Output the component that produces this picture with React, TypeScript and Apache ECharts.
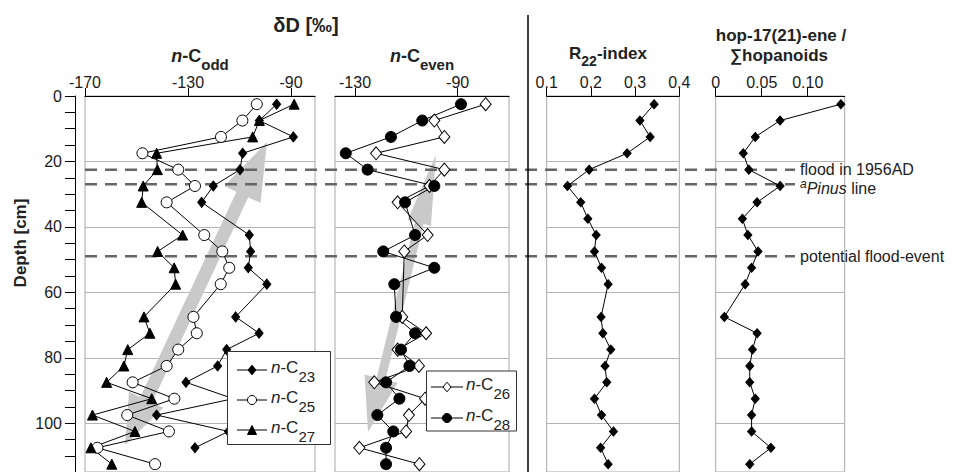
import React, { useEffect, useRef } from 'react';
import * as echarts from 'echarts';

const FONT = '"Liberation Sans", Arial, Helvetica, sans-serif';

// Sample depths (cm)
const depths = [2.5, 7.5, 12.5, 17.5, 22.5, 27.5, 32.5, 37.5, 42.5, 47.5, 52.5, 57.5, 62.5, 67.5, 72.5, 77.5, 82.5, 87.5, 92.5, 97.5, 102.5, 107.5, 112.5];

// δD n-C odd (‰)
const c23 = [-95.6, -102.3, -89.1, -108.8, -109.8, -120.2, -124.7, null, -106.2, -105.7, -106.6, -99.4, null, -111.5, -102.4, -115.0, -118.5, -130.8, -112.4, -142.2, -114.3, -127.3, null];
const c25 = [-103.3, -108.9, -117.2, -147.7, -133.8, -127.3, -138.3, null, -123.7, -116.7, -114.0, -117.3, null, -127.9, -126.6, -133.8, -138.3, -151.5, -135.3, -153.6, -137.4, -165.2, -142.8];
const c27 = [-88.8, -102.3, -104.9, -142.2, -141.9, -147.4, -148.0, null, -132.1, -141.8, -135.4, -134.8, null, -147.1, -144.8, -153.4, -154.9, -161.6, -144.1, -167.1, -150.6, -167.7, -159.6];

// δD n-C even (‰)
const c26 = [-79.1, -99.1, -95.2, -121.8, -95.2, -101.0, -113.4, null, -101.7, -110.8, null, null, null, -111.6, -102.3, -113.4, -105.1, -122.5, -102.7, -109.0, -110.1, -128.3, -104.9];
const c28 = [-88.7, -103.8, -116.0, -133.6, -125.1, -99.1, -110.5, null, -106.6, -119.0, -99.1, -114.7, null, -114.0, -106.6, -112.1, -108.8, -117.9, -112.7, -121.3, -115.1, -117.9, -117.9];

// R22-index
const r22 = [0.343, 0.311, 0.334, 0.282, 0.196, 0.147, 0.177, 0.193, 0.212, 0.208, 0.224, 0.239, null, 0.223, 0.227, 0.245, 0.232, 0.236, 0.208, 0.224, 0.251, 0.222, 0.239];

// hop-17(21)-ene / sum hopanoids
const hop = [0.136, 0.070, 0.043, 0.030, 0.036, 0.070, 0.045, 0.029, 0.035, 0.046, 0.039, 0.032, null, 0.0094, 0.045, 0.040, 0.037, 0.037, 0.043, 0.039, 0.039, 0.060, 0.037];

// Axis ticks / labels
const depthLabels = [0, 20, 40, 60, 80, 100];
const oddTicks = [-170, -130, -90];
const evenTicks = [-130, -90];
const r22Ticks = [0.1, 0.2, 0.3, 0.4];
const hopTicks = [0, 0.05, 0.1];
const hopTickLabels = ['0', '0.05', '0.10'];

// Event horizons
const eventDepths = [22.5, 27, 49];

const DEPTH_MAX = 114.9;

function pairs(values: (number | null)[]) {
  const out: number[][] = [];
  depths.forEach((d, i) => {
    const v = values[i];
    if (v !== null && v !== undefined) out.push([v, d]);
  });
  return out;
}

function arrowPoly(tail: number[], tip: number[], shaftW: number, headW: number, headLen: number, tailW: number, tailLen: number) {
  const dx = tip[0] - tail[0];
  const dy = tip[1] - tail[1];
  const L = Math.hypot(dx, dy);
  const ux = dx / L, uy = dy / L;
  const nx = -uy, ny = ux;
  const hb = [tip[0] - ux * headLen, tip[1] - uy * headLen];
  const tb = [tail[0] + ux * tailLen, tail[1] + uy * tailLen];
  const P = (b: number[], w: number) => [b[0] + nx * w / 2, b[1] + ny * w / 2];
  return [
    tip,
    P(hb, headW), P(hb, shaftW), P(tb, shaftW), P(tb, tailW),
    tail,
    P(tb, -tailW), P(tb, -shaftW), P(hb, -shaftW), P(hb, -headW),
  ];
}

const gridBase = { top: 96, height: 378, show: true, borderColor: '#a8a8a8', borderWidth: 1, backgroundColor: 'transparent' };

function xAxisDef(gridIndex: number, min: number, max: number, ticks: number[], fmt?: (v: number) => string) {
  return {
    type: 'value', gridIndex, position: 'top', min, max,
    axisLine: { show: true, onZero: false, lineStyle: { color: '#000', width: 1 } },
    axisTick: { show: true, inside: false, length: 8, customValues: ticks, lineStyle: { color: '#000', width: 1 } },
    axisLabel: { show: true, customValues: ticks, margin: 6, fontSize: 16, color: '#1a1a1a', fontFamily: FONT, formatter: fmt || ((v: number) => String(v)) },
    splitLine: { show: false },
  };
}

function yAxisDef(gridIndex: number, main: boolean) {
  return {
    type: 'value', gridIndex, inverse: true, min: 0, max: DEPTH_MAX, interval: 20,
    offset: main ? 10 : 0,
    axisLine: { show: main, onZero: false, lineStyle: { color: '#000', width: 1 } },
    axisTick: { show: main, inside: false, length: 10, lineStyle: { color: '#000', width: 1 } },
    minorTick: { show: main, splitNumber: 4, length: 10, lineStyle: { color: '#000', width: 1 } },
    minorSplitLine: { show: false },
    axisLabel: { show: main, customValues: depthLabels, margin: 13, fontSize: 16, color: '#1a1a1a', fontFamily: FONT },
    splitLine: { show: true, lineStyle: { color: '#b4b4b4', width: 1 } },
  };
}

function lineSeries(name: string, values: (number | null)[], gi: number, symbol: string, size: any, fill: string) {
  return {
    name, type: 'line', xAxisIndex: gi, yAxisIndex: gi,
    data: pairs(values),
    symbol, symbolSize: size,
    showAllSymbol: true,
    lineStyle: { color: '#000', width: 1 },
    itemStyle: { color: fill, borderColor: '#000', borderWidth: 1 },
    z: 3,
  };
}

const titleRich = (fs: number, ss: number, pad: number) => ({
  i: { fontStyle: 'italic', fontWeight: 'bold', fontSize: fs, lineHeight: fs + 4, verticalAlign: 'top', fontFamily: FONT, fill: '#222' },
  b: { fontWeight: 'bold', fontSize: fs, lineHeight: fs + 4, verticalAlign: 'top', fontFamily: FONT, fill: '#222' },
  s: { fontWeight: 'bold', fontSize: ss, lineHeight: ss, verticalAlign: 'top', padding: [pad, 0, 0, 0], fontFamily: FONT, fill: '#222' },
});

const legRich = {
  i: { fontStyle: 'italic', fontSize: 17, lineHeight: 20, verticalAlign: 'top', fontFamily: FONT, fill: '#222' },
  r: { fontSize: 17, lineHeight: 20, verticalAlign: 'top', fontFamily: FONT, fill: '#222' },
  s: { fontSize: 15, lineHeight: 15, verticalAlign: 'top', padding: [10, 0, 0, 0], fontFamily: FONT, fill: '#222' },
};

function marker(kind: string, cx: number, cy: number, s: number, z: number) {
  if (kind === 'diamond' || kind === 'odiamond') {
    return { type: 'polygon', z, shape: { points: [[cx, cy - s * 0.6], [cx + s / 2, cy], [cx, cy + s * 0.6], [cx - s / 2, cy]] }, style: { fill: kind === 'diamond' ? '#000' : '#fff', stroke: '#000', lineWidth: 1 } };
  }
  if (kind === 'triangle') {
    return { type: 'polygon', z, shape: { points: [[cx, cy - s / 2], [cx + s / 2, cy + s / 2], [cx - s / 2, cy + s / 2]] }, style: { fill: '#000', stroke: '#000', lineWidth: 1 } };
  }
  return { type: 'circle', z, shape: { cx, cy, r: s / 2 }, style: { fill: kind === 'circle' ? '#000' : '#fff', stroke: '#000', lineWidth: 1 } };
}

export default function App() {
  const ref = useRef<HTMLDivElement>(null);
  useEffect(() => {
    if (!ref.current) return;
    const chart = echarts.init(ref.current, undefined, { renderer: 'svg' });
    const option: any = {
      animation: false,
      backgroundColor: '#fff',
      textStyle: { fontFamily: FONT },
      grid: [
        { ...gridBase, left: 85, width: 230 },
        { ...gridBase, left: 335, width: 174 },
        { ...gridBase, left: 546.7, width: 132.6 },
        { ...gridBase, left: 715.7, width: 129 },
      ],
      xAxis: [
        xAxisDef(0, -170, -80.7, oddTicks),
        xAxisDef(1, -137.8, -70, evenTicks),
        xAxisDef(2, 0.1, 0.4, r22Ticks),
        xAxisDef(3, 0, 0.1402, hopTicks, (v: number) => hopTickLabels[hopTicks.indexOf(v)] ?? String(v)),
      ],
      yAxis: [yAxisDef(0, true), yAxisDef(1, false), yAxisDef(2, false), yAxisDef(3, false)],
      series: [
        lineSeries('n-C23', c23, 0, 'diamond', [8, 10], '#000'),
        lineSeries('n-C25', c25, 0, 'circle', 11, '#fff'),
        lineSeries('n-C27', c27, 0, 'triangle', 10, '#000'),
        lineSeries('n-C26', c26, 1, 'diamond', [11, 13], '#fff'),
        lineSeries('n-C28', c28, 1, 'circle', 11, '#000'),
        lineSeries('R22', r22, 2, 'diamond', [8, 9], '#000'),
        lineSeries('hop', hop, 3, 'diamond', [8, 9], '#000'),
      ],
    };
    chart.setOption(option);

    const yOf = (d: number) => chart.convertToPixel({ yAxisIndex: 0 }, d) as number;
    const g: any[] = [];

    // gray trend arrows
    g.push({ type: 'polygon', z: 1, shape: { points: arrowPoly([125, 445], [267, 142], 13, 40, 58, 38, 50) }, style: { fill: '#c9c9c9' } });
    g.push({ type: 'polygon', z: 1, shape: { points: arrowPoly([368, 432], [436, 155], 9, 24, 70, 34, 55) }, style: { fill: '#c9c9c9' } });

    // event lines
    eventDepths.forEach((d) => {
      const y = yOf(d);
      g.push({ type: 'line', z: 2, shape: { x1: 85, y1: y, x2: 795, y2: y }, style: { stroke: '#666', lineWidth: 2.5, lineDash: [12, 8] } });
    });
    const yf = yOf(eventDepths[0]);
    const yp = yOf(eventDepths[1]);
    const ye = yOf(eventDepths[2]);
    g.push({ type: 'text', z: 5, style: { text: 'flood in 1956AD', x: 800, y: yf, verticalAlign: 'middle', fontSize: 16, fontFamily: FONT, fill: '#222' } });
    g.push({ type: 'text', z: 5, style: { text: '{a|a}{p|Pinus}{n| line}', x: 800, y: yp + 3, verticalAlign: 'middle', fontFamily: FONT, fill: '#222',
      rich: {
        a: { fontSize: 12, lineHeight: 12, verticalAlign: 'top', fontStyle: 'italic', fontFamily: FONT, fill: '#222' },
        p: { fontSize: 16, lineHeight: 18, verticalAlign: 'top', padding: [2, 0, 0, 0], fontStyle: 'italic', fontFamily: FONT, fill: '#222' },
        n: { fontSize: 16, lineHeight: 18, verticalAlign: 'top', padding: [2, 0, 0, 0], fontFamily: FONT, fill: '#222' },
      } } });
    g.push({ type: 'text', z: 5, style: { text: 'potential flood-event', x: 800, y: ye, verticalAlign: 'middle', fontSize: 16, fontFamily: FONT, fill: '#222' } });

    // separator
    g.push({ type: 'line', z: 5, shape: { x1: 528, y1: 15, x2: 528, y2: 472 }, style: { stroke: '#000', lineWidth: 1.5 } });

    // titles
    g.push({ type: 'text', z: 5, style: { text: 'δD [‰]', x: 306, y: 25, align: 'center', verticalAlign: 'middle', fontSize: 20, fontWeight: 'bold', fontFamily: FONT, fill: '#222' } });
    g.push({ type: 'text', z: 5, style: { text: '{i|n}{b|-C}{s|odd}', x: 200, y: 47, align: 'center', verticalAlign: 'top', rich: titleRich(18, 15, 10) } });
    g.push({ type: 'text', z: 5, style: { text: '{i|n}{b|-C}{s|even}', x: 422, y: 47, align: 'center', verticalAlign: 'top', rich: titleRich(18, 15, 10) } });
    g.push({ type: 'text', z: 5, style: { text: '{b|R}{s|22}{b|-index}', x: 608, y: 45, align: 'center', verticalAlign: 'top', rich: titleRich(17, 14, 9) } });
    g.push({ type: 'text', z: 5, style: { text: 'hop-17(21)-ene /', x: 781, y: 35, align: 'center', verticalAlign: 'middle', fontSize: 17, fontWeight: 'bold', fontFamily: FONT, fill: '#222' } });
    g.push({ type: 'text', z: 5, style: { text: '∑hopanoids', x: 779, y: 55, align: 'center', verticalAlign: 'middle', fontSize: 17, fontWeight: 'bold', fontFamily: FONT, fill: '#222' } });
    g.push({ type: 'text', z: 5, x: 20, y: 243, rotation: Math.PI / 2, style: { text: 'Depth [cm]', x: 0, y: 0, align: 'center', verticalAlign: 'middle', fontSize: 17, fontWeight: 'bold', fontFamily: FONT, fill: '#222' } });

    // legend 1
    g.push({ type: 'rect', z: 10, shape: { x: 227.5, y: 351.5, width: 103, height: 93 }, style: { fill: '#fff', stroke: '#333', lineWidth: 1 } });
    const leg1 = [
      { y: 370, kind: 'diamond', s: 8, sub: '23' },
      { y: 400, kind: 'ocircle', s: 9, sub: '25' },
      { y: 430, kind: 'triangle', s: 9, sub: '27' },
    ];
    leg1.forEach((e) => {
      g.push({ type: 'line', z: 11, shape: { x1: 237, y1: e.y, x2: 267, y2: e.y }, style: { stroke: '#000', lineWidth: 1 } });
      g.push(marker(e.kind, 252, e.y, e.s, 12));
      g.push({ type: 'text', z: 12, style: { text: `{i|n}{r|-C}{s|${e.sub}}`, x: 271, y: e.y - 11, verticalAlign: 'top', rich: legRich } });
    });

    // legend 2
    g.push({ type: 'rect', z: 10, shape: { x: 426.5, y: 371, width: 90, height: 60 }, style: { fill: '#fff', stroke: '#333', lineWidth: 1 } });
    const leg2 = [
      { y: 387, kind: 'odiamond', s: 8, sub: '26' },
      { y: 418, kind: 'circle', s: 9, sub: '28' },
    ];
    leg2.forEach((e) => {
      g.push({ type: 'line', z: 11, shape: { x1: 431, y1: e.y, x2: 463, y2: e.y }, style: { stroke: '#000', lineWidth: 1 } });
      g.push(marker(e.kind, 447, e.y, e.s, 12));
      g.push({ type: 'text', z: 12, style: { text: `{i|n}{r|-C}{s|${e.sub}}`, x: 466, y: e.y - 11, verticalAlign: 'top', rich: legRich } });
    });

    chart.setOption({ graphic: { elements: g } });

    return () => chart.dispose();
  }, []);
  return <div ref={ref} style={{ position: 'fixed', left: 0, top: 0, width: 961, height: 472 }} />;
}
